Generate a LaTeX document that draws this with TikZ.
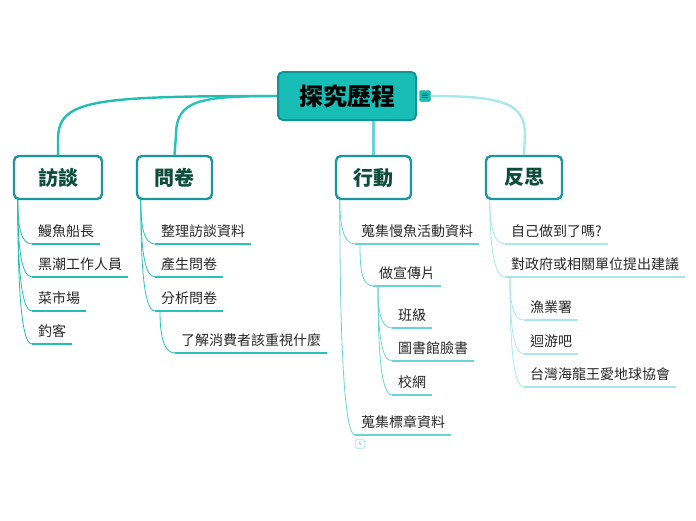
\documentclass[tikz,border=0pt]{standalone}
\usepackage{fontspec}
\setmainfont{Noto Sans CJK TC}
\usetikzlibrary{positioning}
\definecolor{RootTeal}{RGB}{24,190,182}
\definecolor{RootEdge}{RGB}{18,148,150}
\definecolor{BoxEdge}{RGB}{26,150,158}
\definecolor{BoxText}{RGB}{12,78,60}
\definecolor{LineA}{RGB}{34,190,178}
\definecolor{LineB}{RGB}{40,194,186}
\definecolor{LineC}{RGB}{104,212,212}
\definecolor{LineD}{RGB}{168,232,234}

\begin{document}
\begin{tikzpicture}[x=1pt, y=-1pt,
    root/.style={draw=RootEdge, line width=2pt, fill=RootTeal, rounded corners=5pt,
      minimum width=138pt, minimum height=48pt, font=\fontsize{24}{28}\selectfont\bfseries},
    topic/.style={draw=BoxEdge, line width=2.4pt, fill=white, rounded corners=5pt,
      minimum width=75pt, minimum height=43pt, text=BoxText,
      font=\fontsize{20}{24}\selectfont\bfseries},
    kid/.style={anchor=south west, inner xsep=6pt, inner ysep=6pt,
      font=\fontsize{14}{16}\selectfont, text=black!85},
    trunk/.style={line width=2.4pt, #1},
    twig/.style={line width=0.8pt, #1},
    sweep/.style={out=-90, in=180, out looseness=1.3, in distance=12pt},
    ul/.style={line width=2pt, #1}]
  \useasboundingbox (0,0) rectangle (696,520);

  % central topic
  \node[root] (root) at (347,96) {探究歷程};
  \node[fill=RootTeal, draw=RootEdge, rounded corners=2pt, inner sep=0.5pt,
    minimum size=11pt, font=\small] (note) at (425,96) {$\equiv$};

  % main topics
  \node[topic, minimum width=88pt] (fangtan) at (58,177.5) {訪談};
  \node[topic] (wenjuan) at (174.5,177.5) {問卷};
  \node[topic] (xingdong) at (373.5,177.5) {行動};
  \node[topic, minimum width=76pt] (fansi) at (524,177.5) {反思};

  \draw[trunk=LineA] (root.west) .. controls (90,96) and (58,100) .. (58,140) -- (fangtan.north);
  \draw[trunk=LineB] (root.west) .. controls (200,96) and (176,100) .. (176,135) -- (wenjuan.north);
  \draw[trunk=LineC] (root.south -| xingdong.north) -- (xingdong.north);
  \draw[trunk=LineD] (note.east) .. controls (505,96) and (525,104) .. (525,135) -- (fansi.north);

  % 訪談
  \node[kid] (ft1) at (32,244) {鰻魚船長};
  \node[kid] (ft2) at (32,277) {黑潮工作人員};
  \node[kid] (ft3) at (32,311) {菜市場};
  \node[kid] (ft4) at (32,344) {釣客};
  \draw[twig=LineA] ([xshift=5pt]fangtan.south west) to[sweep] (ft1.south west);
  \draw[twig=LineA] ([xshift=5pt]fangtan.south west) to[sweep] (ft2.south west);
  \draw[twig=LineA] ([xshift=5pt]fangtan.south west) to[sweep] (ft3.south west);
  \draw[twig=LineA] ([xshift=5pt]fangtan.south west) to[sweep] (ft4.south west);
  \draw[ul=LineA] (ft1.south west) -- (ft1.south east);
  \draw[ul=LineA] (ft2.south west) -- (ft2.south east);
  \draw[ul=LineA] (ft3.south west) -- (ft3.south east);
  \draw[ul=LineA] (ft4.south west) -- (ft4.south east);

  % 問卷
  \node[kid] (wj1) at (155,244) {整理訪談資料};
  \node[kid] (wj2) at (155,277) {產生問卷};
  \node[kid] (wj3) at (155,311) {分析問卷};
  \node[kid] (wj31) at (175,353) {了解消費者該重視什麼};
  \draw[twig=LineB] ([xshift=5pt]wenjuan.south west) to[sweep] (wj1.south west);
  \draw[twig=LineB] ([xshift=5pt]wenjuan.south west) to[sweep] (wj2.south west);
  \draw[twig=LineB] ([xshift=5pt]wenjuan.south west) to[sweep] (wj3.south west);
  \draw[twig=LineB] ([xshift=5pt]wj3.south west) to[sweep] (wj31.south west);
  \draw[ul=LineB] (wj1.south west) -- (wj1.south east);
  \draw[ul=LineB] (wj2.south west) -- (wj2.south east);
  \draw[ul=LineB] (wj3.south west) -- (wj3.south east);
  \draw[ul=LineB] (wj31.south west) -- (wj31.south east);

  % 行動
  \node[kid] (xd1) at (355,244) {蒐集慢魚活動資料};
  \node[kid] (xd11) at (373,286) {做宣傳片};
  \node[kid] (xd111) at (392,328) {班級};
  \node[kid] (xd112) at (392,361) {圖書館臉書};
  \node[kid] (xd113) at (392,395) {校網};
  \node[kid] (xd2) at (355,435) {蒐集標章資料};
  \draw[twig=LineC] ([xshift=5pt]xingdong.south west) to[sweep] (xd1.south west);
  \draw[twig=LineC] ([xshift=5pt]xingdong.south west) to[sweep] (xd2.south west);
  \draw[twig=LineC] ([xshift=5pt]xd1.south west) to[sweep] (xd11.south west);
  \draw[twig=LineC] ([xshift=5pt]xd11.south west) to[sweep] (xd111.south west);
  \draw[twig=LineC] ([xshift=5pt]xd11.south west) to[sweep] (xd112.south west);
  \draw[twig=LineC] ([xshift=5pt]xd11.south west) to[sweep] (xd113.south west);
  \draw[ul=LineC] (xd1.south west) -- (xd1.south east);
  \draw[ul=LineC] (xd11.south west) -- (xd11.south east);
  \draw[ul=LineC] (xd111.south west) -- (xd111.south east);
  \draw[ul=LineC] (xd112.south west) -- (xd112.south east);
  \draw[ul=LineC] (xd113.south west) -- (xd113.south east);
  \draw[ul=LineC] (xd2.south west) -- (xd2.south east);
  \node[draw=LineC, rounded corners=2pt, inner sep=1pt, minimum width=9pt, minimum height=9pt,
    text=LineC!80!black, font=\fontsize{5}{6}\selectfont] (fold) at (360,444) {6};

  % 反思
  \node[kid] (fs1) at (505,244) {自己做到了嗎?};
  \node[kid] (fs2) at (505,277) {對政府或相關單位提出建議};
  \node[kid] (fs21) at (524,320) {漁業署};
  \node[kid] (fs22) at (524,354) {迴游吧};
  \node[kid] (fs23) at (524,387) {台灣海龍王愛地球協會};
  \draw[twig=LineD] ([xshift=5pt]fansi.south west) to[sweep] (fs1.south west);
  \draw[twig=LineD] ([xshift=5pt]fansi.south west) to[sweep] (fs2.south west);
  \draw[twig=LineD] ([xshift=5pt]fs2.south west) to[sweep] (fs21.south west);
  \draw[twig=LineD] ([xshift=5pt]fs2.south west) to[sweep] (fs22.south west);
  \draw[twig=LineD] ([xshift=5pt]fs2.south west) to[sweep] (fs23.south west);
  \draw[ul=LineD] (fs1.south west) -- (fs1.south east);
  \draw[ul=LineD] (fs2.south west) -- (fs2.south east);
  \draw[ul=LineD] (fs21.south west) -- (fs21.south east);
  \draw[ul=LineD] (fs22.south west) -- (fs22.south east);
  \draw[ul=LineD] (fs23.south west) -- (fs23.south east);
\end{tikzpicture}
\end{document}
